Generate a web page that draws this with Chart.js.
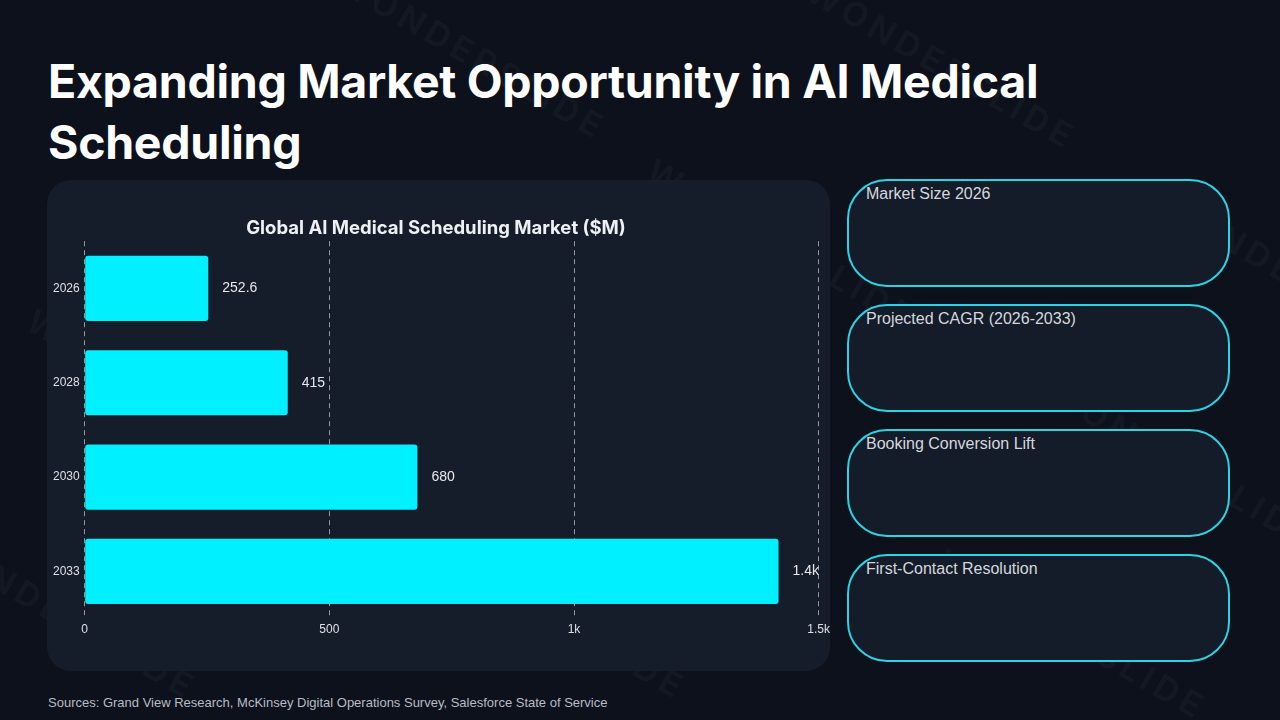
<!DOCTYPE html>
<html>
<head>
<meta charset="utf-8">
<script src="https://cdn.jsdelivr.net/npm/chart.js@4.4.0/dist/chart.umd.min.js"></script>
<style>
  html, body { margin: 0; padding: 0; }
  body {
    width: 1280px; height: 720px; overflow: hidden; position: relative;
    background: #0d111b; font-family: "Liberation Sans", Arial, sans-serif;
  }
  .wm {
    position: absolute; color: rgba(255,255,255,0.035);
    font: 700 34px "Inter", sans-serif; letter-spacing: 5px;
    transform: rotate(30deg); transform-origin: left top; white-space: nowrap;
  }
  h1 {
    position: absolute; left: 48px; top: 51px; margin: 0; width: 1100px;
    font: 700 46.5px/61px "Inter", sans-serif; color: #ffffff; letter-spacing: -0.3px;
  }
  .panel {
    position: absolute; left: 47px; top: 180px; width: 783px; height: 491px;
    background: #151c2a; border-radius: 24px;
  }
  .panel canvas { position: absolute; left: 0; top: 0; }
  .card {
    position: absolute; left: 847px; width: 383px; height: 108px;
    border: 2px solid #2bd3e3; border-radius: 40px; background: #141b29;
    box-sizing: border-box;
  }
  .card span {
    position: absolute; left: 17px; top: 4px; font-size: 16px; color: #d4d8de;
  }
  .src {
    position: absolute; left: 48px; top: 695px; font-size: 13px; color: #b8bcc4;
  }
</style>
</head>
<body>
<div id="wms"></div>
<h1>Expanding Market Opportunity in AI Medical Scheduling</h1>
<div class="panel"><canvas id="market-canvas" width="787" height="491"></canvas></div>
<div class="card" style="top:179px"><span>Market Size 2026</span></div>
<div class="card" style="top:304px"><span>Projected CAGR (2026-2033)</span></div>
<div class="card" style="top:429px"><span>Booking Conversion Lift</span></div>
<div class="card" style="top:554px"><span>First-Contact Resolution</span></div>
<div class="src">Sources: Grand View Research, McKinsey Digital Operations Survey, Salesforce State of Service</div>

<script>
const years = ['2026', '2028', '2030', '2033'];
const marketSize = [252.6, 415, 680, 1418];
const xTicks = [0, 500, 1000, 1500];

// faint watermark tiles
const wmSpots = [[350, -40], [820, -30], [660, 150], [1170, 180], [40, 300], [550, 330], [1060, 370], [-60, 520], [430, 520], [950, 540]];
wmSpots.forEach(p => {
    const s = document.createElement('div');
    s.className = 'wm';
    s.style.left = p[0] + 'px';
    s.style.top = p[1] + 'px';
    s.textContent = 'WONDERSLIDE';
    document.getElementById('wms').appendChild(s);
});

const fmtK = (v) => v >= 1000 ? (Math.round(v / 100) / 10) + 'k' : String(v);

const valueLabels = {
    id: 'valueLabels',
    afterDatasetsDraw(chart) {
        const ctx = chart.ctx;
        const meta = chart.getDatasetMeta(0);
        ctx.save();
        ctx.font = '14px "Liberation Sans", Arial, sans-serif';
        ctx.fillStyle = '#e6e8ec';
        ctx.textBaseline = 'middle';
        meta.data.forEach((bar, i) => {
            ctx.fillText(fmtK(marketSize[i]), bar.x + 14, bar.y);
        });
        ctx.restore();
    }
};

const ctx = document.getElementById('market-canvas');
new Chart(ctx, {
    type: 'bar',
    data: {
        labels: years,
        datasets: [{
            data: marketSize,
            backgroundColor: '#00f0ff',
            borderRadius: 3,
            borderSkipped: false,
            categoryPercentage: 1,
            barPercentage: 0.69
        }]
    },
    options: {
        indexAxis: 'y',
        responsive: false,
        animation: false,
        layout: { padding: { left: 1, right: 10, top: 22, bottom: 30 } },
        scales: {
            x: {
                min: 0,
                max: 1500,
                afterBuildTicks: (axis) => { axis.ticks = xTicks.map(v => ({ value: v })); },
                ticks: {
                    color: '#dde0e5',
                    font: { size: 12, family: '"Liberation Sans", Arial, sans-serif' },
                    padding: 4,
                    callback: (v) => fmtK(v)
                },
                grid: {
                    color: 'rgba(255,255,255,0.55)',
                    drawTicks: false
                },
                border: { display: false, dash: [5, 4] }
            },
            y: {
                ticks: {
                    color: '#dde0e5',
                    font: { size: 12, family: '"Liberation Sans", Arial, sans-serif' },
                    padding: 5
                },
                grid: { display: false, drawTicks: false },
                border: { display: false }
            }
        },
        plugins: {
            legend: { display: false },
            tooltip: { enabled: false },
            title: {
                display: true,
                text: 'Global AI Medical Scheduling Market ($M)',
                color: '#eef0f3',
                font: { size: 18.5, weight: 'bold', family: 'Inter, sans-serif' },
                padding: { top: 15, bottom: 2 }
            }
        }
    },
    plugins: [valueLabels]
});
</script>
</body>
</html>
